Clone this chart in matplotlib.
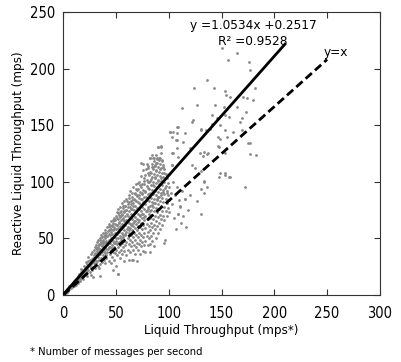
import numpy as np
import matplotlib.pyplot as plt

plt.rcParams['font.family'] = ['DejaVu Sans']
plt.rcParams['font.stretch'] = 'condensed'

# (liquid throughput, reactive liquid throughput)
points = [
    (1, 1), (2, 2), (2, 3), (3, 2), (3, 4), (4, 3), (4, 5), (5, 4), (5, 6), (6, 5), (6, 7), (7, 6), (7, 8),
    (8, 7), (8, 9), (9, 8), (9, 11), (10, 9), (10, 12), (1, 2), (3, 3), (5, 5), (7, 7), (8, 10), (6, 8),
    (4, 4), (2, 1), (9, 10), (10, 8),
    (11, 10), (11, 13), (12, 11), (12, 14), (13, 12), (13, 15), (14, 13), (14, 17), (15, 13), (15, 16),
    (15, 19), (16, 14), (16, 18), (17, 16), (17, 20), (18, 15), (18, 19), (18, 22), (19, 17), (19, 21),
    (20, 18), (20, 22), (20, 26), (12, 9), (14, 11), (16, 12), (19, 14), (17, 23),
    (21, 20), (21, 24), (22, 19), (22, 25), (22, 29), (23, 21), (23, 27), (24, 22), (24, 30), (24, 34),
    (25, 20), (25, 26), (25, 31), (26, 24), (26, 29), (26, 36), (27, 22), (27, 30), (27, 38), (28, 25),
    (28, 33), (28, 16), (29, 28), (29, 35), (29, 40), (30, 24), (30, 31), (30, 37), (30, 42), (23, 17), (26, 18),
    (31, 28), (31, 35), (31, 44), (32, 30), (32, 39), (32, 47), (33, 26), (33, 34), (33, 42), (33, 49),
    (34, 31), (34, 38), (34, 45), (35, 17), (35, 27), (35, 36), (35, 41), (35, 50), (36, 33), (36, 40),
    (36, 47), (36, 53), (37, 29), (37, 38), (37, 44), (37, 51), (38, 35), (38, 42), (38, 48), (38, 55),
    (39, 31), (39, 39), (39, 46), (39, 52), (40, 28), (40, 37), (40, 43), (40, 50), (40, 57), (34, 24),
    (41, 33), (41, 41), (41, 48), (41, 55), (42, 38), (42, 45), (42, 52), (42, 60), (43, 30), (43, 42),
    (43, 49), (43, 57), (43, 63), (44, 36), (44, 46), (44, 53), (44, 61), (45, 28), (45, 40), (45, 50),
    (45, 58), (45, 65), (46, 34), (46, 44), (46, 54), (46, 62), (47, 38), (47, 48), (47, 57), (47, 66),
    (48, 31), (48, 42), (48, 51), (48, 60), (48, 68), (49, 37), (49, 46), (49, 55), (49, 63), (50, 26),
    (50, 40), (50, 50), (50, 58), (50, 70), (47, 22),
    (51, 35), (51, 45), (51, 54), (51, 62), (51, 73), (52, 19), (52, 42), (52, 50), (52, 59), (52, 67),
    (52, 76), (53, 38), (53, 47), (53, 56), (53, 64), (53, 71), (54, 33), (54, 44), (54, 52), (54, 61),
    (54, 69), (54, 78), (55, 40), (55, 49), (55, 58), (55, 66), (55, 74), (56, 36), (56, 46), (56, 55),
    (56, 63), (56, 72), (56, 81), (57, 42), (57, 51), (57, 60), (57, 68), (57, 77), (58, 30), (58, 39),
    (58, 48), (58, 57), (58, 65), (58, 74), (58, 83), (59, 44), (59, 53), (59, 62), (59, 70), (59, 79),
    (60, 35), (60, 47), (60, 56), (60, 66), (60, 75), (60, 85),
    (61, 40), (61, 50), (61, 60), (61, 70), (61, 80), (62, 31), (62, 45), (62, 55), (62, 64), (62, 74),
    (62, 88), (63, 38), (63, 49), (63, 59), (63, 68), (63, 78), (63, 92), (64, 43), (64, 53), (64, 63),
    (64, 72), (64, 83), (65, 31), (65, 47), (65, 57), (65, 67), (65, 76), (65, 87), (66, 40), (66, 51),
    (66, 61), (66, 71), (66, 81), (66, 95), (67, 44), (67, 55), (67, 65), (67, 75), (67, 85), (68, 36),
    (68, 49), (68, 59), (68, 69), (68, 79), (68, 90), (69, 42), (69, 53), (69, 63), (69, 73), (69, 83),
    (69, 98), (70, 46), (70, 57), (70, 67), (70, 77), (70, 88), (70, 30),
    (71, 40), (71, 51), (71, 61), (71, 72), (71, 82), (71, 94), (72, 45), (72, 55), (72, 66), (72, 76),
    (72, 86), (72, 100), (73, 36), (73, 49), (73, 60), (73, 70), (73, 80), (73, 91), (74, 43), (74, 53),
    (74, 64), (74, 74), (74, 85), (74, 105), (75, 47), (75, 58), (75, 68), (75, 78), (75, 89), (75, 98),
    (76, 39), (76, 51), (76, 62), (76, 72), (76, 82), (76, 93), (76, 110), (77, 44), (77, 55), (77, 66),
    (77, 76), (77, 87), (77, 101), (78, 38), (78, 48), (78, 59), (78, 70), (78, 80), (78, 91), (78, 106),
    (79, 52), (79, 63), (79, 74), (79, 84), (79, 96), (80, 44), (80, 56), (80, 67), (80, 78), (80, 89),
    (80, 100), (80, 114),
    (81, 50), (81, 61), (81, 72), (81, 83), (81, 94), (81, 106), (82, 45), (82, 57), (82, 68), (82, 79),
    (82, 90), (82, 101), (82, 121), (83, 52), (83, 64), (83, 75), (83, 86), (83, 97), (83, 108), (84, 48),
    (84, 60), (84, 71), (84, 82), (84, 93), (84, 104), (84, 116), (85, 55), (85, 67), (85, 78), (85, 89),
    (85, 100), (85, 111), (86, 43), (86, 62), (86, 74), (86, 85), (86, 96), (86, 107), (86, 121), (87, 58),
    (87, 70), (87, 81), (87, 92), (87, 103), (87, 114), (88, 50), (88, 65), (88, 77), (88, 88), (88, 99),
    (88, 110), (88, 124), (89, 61), (89, 73), (89, 84), (89, 95), (89, 106), (89, 117), (90, 55), (90, 69),
    (90, 80), (90, 91), (90, 102), (90, 113), (90, 131),
    (91, 64), (91, 76), (91, 87), (91, 98), (91, 109), (91, 121), (92, 58), (92, 71), (92, 83), (92, 94),
    (92, 105), (92, 116), (93, 67), (93, 79), (93, 90), (93, 101), (93, 112), (93, 132), (94, 62), (94, 74),
    (94, 86), (94, 97), (94, 108), (94, 119), (95, 70), (95, 82), (95, 93), (95, 104), (95, 115), (96, 66),
    (96, 78), (96, 89), (96, 100), (96, 111), (97, 74), (97, 85), (97, 96), (97, 107), (98, 70), (98, 81),
    (98, 92), (98, 103), (99, 77), (99, 88), (99, 99), (100, 73), (100, 84), (100, 95), (100, 107),
    (96, 46), (102, 90), (103, 80), (104, 100), (105, 68), (106, 88), (107, 58), (108, 95), (109, 72),
    (110, 84), (111, 78), (112, 64), (113, 92), (114, 70), (115, 85), (116, 60), (118, 75), (120, 88),
    (103, 115), (104, 125), (107, 137), (108, 130), (101, 144), (103, 140), (104, 144), (107.5, 148.7),
    (113, 165), (124, 182.6), (126.5, 168), (123, 154.6), (93, 131), (88.6, 121), (92, 121), (90, 131),
    (84, 123.7), (82, 121), (85, 121), (79, 116), (74, 117), (76, 116), (87, 115), (80.7, 112),
    (82, 38), (66.6, 31), (52, 19), (96.5, 48.6),
    (150, 218), (165, 213.5), (156, 207.6), (176, 205.6), (177, 199), (136, 190), (143, 182.6), (153, 180),
    (154, 177), (158, 175), (182, 182.6), (170, 175), (174, 173.8), (180, 172), (144, 168), (152, 166),
    (165, 166), (141, 159), (153, 159), (157, 157), (169, 156), (173, 161.5), (131, 147), (139.5, 147),
    (148.5, 150), (167.5, 153), (161, 144), (155, 140), (148.5, 137.5), (177, 134), (147, 132),
    (133, 126.6), (136, 124.5), (153, 125.5), (177, 124.5), (183, 123.7), (148.5, 107.5), (153, 106),
    (157, 104), (172, 95), (131, 72), (133, 90), (136, 95.5), (109, 71.5),
    (107.5, 143), (109, 148), (122, 153), (131, 146), (135, 146), (140.6, 151), (146, 156), (101, 144),
    (115, 143), (107.5, 137), (114, 135), (120, 129.6), (103, 125), (109, 122), (130, 125), (132.5, 122.8),
    (137, 125.4), (147, 140), (153, 146), (169, 146), (175, 134.5), (148, 131), (122, 115), (125, 112),
    (131, 109.5), (133, 101), (133, 100), (153, 107.5), (148, 104), (158, 104), (131, 94), (115, 85),
    (126.5, 83), (111, 78.6), (103, 115),
]

# extra points in the densest part of the cloud
points_core = [
    (30.5, 36), (31.7, 40.5), (32.4, 36.8), (33.6, 44.2), (34.3, 40.7), (35.8, 46.3), (36.4, 43.1),
    (37.7, 48.9), (38.2, 45.6), (39.5, 53.4), (40.6, 47.2), (41.3, 51.8), (42.7, 56.3), (43.4, 53.9),
    (44.8, 58.7), (45.2, 55.3), (46.7, 60.8), (47.3, 63.4), (48.6, 58.2), (49.4, 66.1), (50.7, 61.5),
    (51.2, 67.8), (52.8, 64.3), (53.5, 69.7), (54.1, 73.2), (55.6, 70.4), (56.3, 67.1), (57.8, 73.6),
    (58.4, 78.2), (59.7, 74.9), (60.3, 71.2), (61.8, 77.5), (62.4, 82.3), (63.9, 75.8), (64.2, 80.6),
    (65.7, 84.1), (66.4, 78.3), (67.8, 89.2), (68.3, 83.7), (69.6, 87.4), (70.2, 92.6), (71.7, 88.3),
    (72.3, 81.5), (73.8, 95.7), (74.5, 90.2), (75.1, 84.6), (76.6, 98.3), (77.2, 92.1), (78.7, 86.4),
    (79.3, 101.2), (80.8, 94.7), (81.4, 99.8), (82.6, 108.5), (83.2, 102.3), (84.7, 97.6), (85.3, 112.8),
    (86.9, 104.2), (87.5, 109.7), (88.2, 116.3), (89.7, 100.4), (90.4, 119.2), (91.8, 111.5),
    (92.3, 103.7), (93.6, 118.4), (94.2, 113.1), (95.5, 108.2),
    (40.4, 35.6), (42.2, 40.3), (44.5, 42.8), (46.1, 41.1), (48.3, 45.7), (50.2, 47.6), (52.4, 46.1),
    (54.7, 50.3), (56.5, 52.7), (58.2, 54.1), (60.6, 58.3), (62.7, 57.2), (64.4, 61.7), (66.2, 63.6),
    (68.5, 65.2), (70.7, 64.1), (72.4, 70.3), (74.8, 71.6), (76.2, 68.7), (78.3, 73.8), (80.4, 76.2),
    (82.3, 74.1), (84.2, 79.6), (86.4, 81.3), (88.5, 84.8), (90.2, 86.6), (92.5, 88.7), (94.6, 91.4),
    (96.3, 94.2), (98.4, 90.3),
    (30.8, 41.5), (35.3, 48.6), (39.2, 54.7), (43.8, 60.9), (48.1, 66.7), (52.2, 72.4), (56.9, 78.8),
    (60.9, 82.6), (64.8, 89.7), (68.9, 93.2), (72.9, 97.4), (76.8, 103.6), (80.3, 107.8), (84.6, 113.4),
    (88.8, 120.2), (92.9, 125.7), (86.2, 118.5), (78.4, 111.2), (70.6, 99.3), (62.8, 86.1),
    (2.5, 2.8), (3.6, 3.1), (4.7, 4.2), (5.3, 6.5), (6.6, 6.1), (7.4, 8.6), (8.8, 8.2), (9.6, 10.7),
    (10.5, 10.1), (11.7, 11.6), (12.6, 13.4), (13.3, 14.2), (14.6, 15.3), (15.8, 17.2), (16.4, 16.1),
    (17.6, 18.7), (18.7, 20.4), (19.4, 19.2), (20.7, 23.1), (21.5, 22.4), (22.6, 24.3), (23.5, 25.8),
    (24.7, 26.2), (25.4, 28.3), (26.6, 27.4), (27.4, 31.6), (28.7, 30.2), (29.4, 32.8),
]

liquid = np.array([p[0] for p in points + points_core])
reactive = np.array([p[1] for p in points + points_core])

# linear fit shown on the chart
slope = 1.0534
intercept = 0.2517
fit_x = np.array([0, 210])

# reference line as drawn
ref_x = [0, 250]
ref_y = [0, 208]

fig = plt.figure(figsize=(4.02, 3.62), dpi=100)
ax = fig.add_axes([0.157, 0.185, 0.788, 0.782])

ax.scatter(liquid, reactive, s=4, color='#888888', linewidths=0, zorder=2)
ax.plot(fit_x, slope * fit_x + intercept, color='black', lw=2, zorder=3)
ax.plot(ref_x, ref_y, color='black', lw=2, ls=(0, (3, 1.5)), zorder=3)

ax.text(180, 238, 'y =1.0534x +0.2517', fontsize=9.7, ha='center', va='center')
ax.text(180, 224, 'R² =0.9528', fontsize=9.7, ha='center', va='center')
ax.text(258, 214, 'y=x', fontsize=9.7, ha='center', va='center')

ax.set_xlim(0, 300)
ax.set_ylim(0, 250)
ax.set_xticks([0, 50, 100, 150, 200, 250, 300])
ax.set_yticks([0, 50, 100, 150, 200, 250])
ax.tick_params(direction='in', top=True, right=True, length=4, labelsize=10.5, color='#333333')
ax.tick_params(axis='x', pad=8)
ax.tick_params(axis='y', pad=6)
for s in ax.spines.values():
    s.set_color('#333333')
ax.set_xlabel('Liquid Throughput (mps*)', fontsize=9.5, labelpad=2)
ax.set_ylabel('Reactive Liquid Throughput (mps)', fontsize=9.5, labelpad=3)

fig.text(0.075, 0.02, '* Number of messages per second', fontsize=8)

fig.savefig('out.png', dpi=100)
